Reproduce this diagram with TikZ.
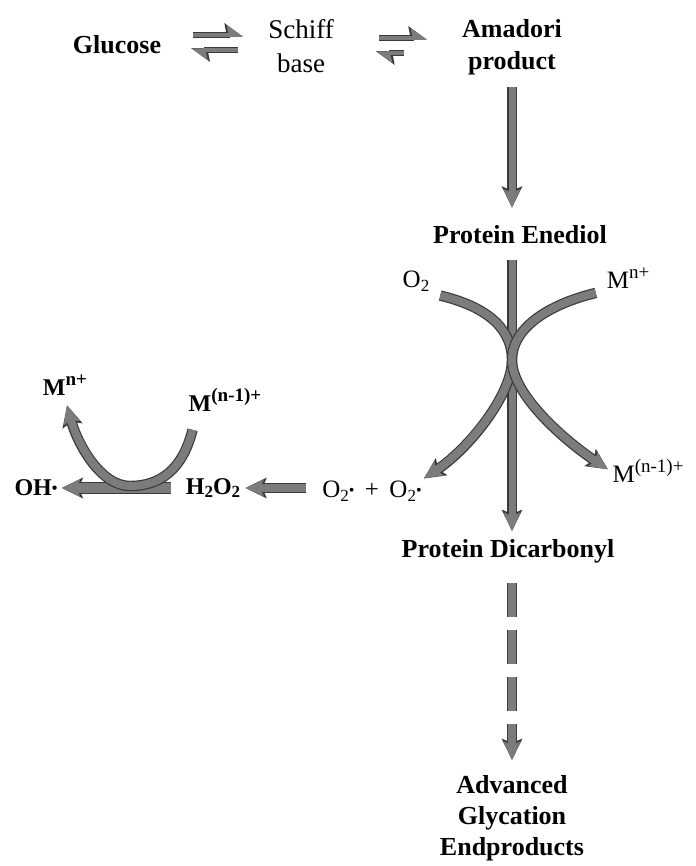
\documentclass[tikz,border=0pt]{standalone}
\usepackage{fontspec}
\setmainfont{Liberation Serif}
\usepackage{tikz}
\usetikzlibrary{arrows.meta,positioning,calc}
\definecolor{agray}{HTML}{7C7C7C}
\definecolor{aedge}{HTML}{3A3A3A}
\newcommand{\chsub}[1]{\raisebox{-0.16em}{\fontsize{17}{17}\selectfont #1}}
\newcommand{\chsup}[1]{\raisebox{0.42em}{\fontsize{19}{19}\selectfont #1}}
\newcommand{\rad}{\raisebox{0.08em}{\fontsize{16}{16}\selectfont\textbullet}}

\begin{document}
\begin{tikzpicture}[x=1pt,y=-1pt,
  lbl/.style={font=\fontsize{26}{32}\selectfont\bfseries,align=center,inner sep=2pt},
  lblr/.style={font=\fontsize{27}{34}\selectfont,align=center,inner sep=2pt},
  sm/.style={font=\fontsize{24}{26}\selectfont\bfseries,inner sep=2pt},
  smr/.style={font=\fontsize{25}{26}\selectfont,inner sep=2pt},
  fat/.style={line width=#1,draw=agray,-{Stealth[length=18pt,width=16pt,inset=3pt]},
    preaction={draw=aedge,line width=#1+2.4,-{Stealth[length=21pt,width=20pt,inset=4pt]}}},
  dfat/.style={line width=8,draw=agray,dash pattern=on 34pt off 13pt,
    -{Stealth[length=18pt,width=16pt,inset=3pt]},
    preaction={draw=aedge,line width=10.4,dash pattern=on 34pt off 13pt,
      -{Stealth[length=21pt,width=20pt,inset=4pt]}}},
  eq/.style={line width=3.5,draw=agray,-{Stealth[harpoon,length=14pt,width=19pt,inset=2pt]},
    preaction={draw=aedge,line width=5.5,-{Stealth[harpoon,length=16pt,width=23pt,inset=2pt]}}}]
\path[use as bounding box] (0,0) rectangle (695,866);

% top row
\node[lbl] (glu) at (117,45) {Glucose};
\node[lblr] (sb) at (301,46) {Schiff\\base};
\node[lbl] (ama) at (512,47) {Amadori\\product};
\draw[eq,shorten <=30pt,shorten >=23pt] ([yshift=10pt]glu.east) -- ([yshift=10pt]glu.east -| sb.west);
\draw[eq,shorten <=28pt,shorten >=28pt] ([yshift=-4pt]sb.west) -- ([yshift=-4pt]sb.west -| glu.east);
\draw[eq,shorten <=43pt,shorten >=33pt] ([yshift=8pt]sb.east) -- ([yshift=8pt]sb.east -| ama.west);
\draw[eq,shorten <=56pt,shorten >=40pt] ([yshift=-6pt]ama.west) -- ([yshift=-6pt]ama.west -| sb.east);

% main chain
\node[lbl] (ene) at (520,235) {Protein Enediol};
\node[lbl] (dic) at (508,551) {Protein Dicarbonyl};
\node[lbl,font=\fontsize{26}{31}\selectfont\bfseries] (age) at (512,818) {Advanced\\Glycation\\Endproducts};
\draw[fat=7,shorten <=10pt,shorten >=16pt] (ama.south) -- (ama.south |- ene.north);
\draw[fat=7,shorten <=14pt,shorten >=6pt] (ama.south |- ene.south) -- (ama.south |- dic.north);
\draw[dfat,shorten <=18pt,shorten >=13pt] (age.north |- dic.south) -- (age.north);

% crossing at the enediol
\node[smr] (o2) at (416,281) {O\chsub{2}};
\node[smr] (mn) at (628,278) {M\chsup{n+}};
\node[smr] (sup) at (372,491) {O\chsub{2}\rad\ \,+\ \,O\chsub{2}\rad};
\node[smr] (mr) at (648,471) {M\chsup{(n-1)+}};
\coordinate (jn) at (512,360);
\draw[fat=8,shorten <=9pt] (o2.south east) .. controls +(50,12) and +(0,-35) .. (jn)
  .. controls +(0,35) and +(45,-30) .. (sup.north east);
\draw[fat=8,shorten <=9pt,shorten >=3pt] (mn.south west) .. controls +(-50,12) and +(0,-35) .. (jn)
  .. controls +(0,35) and +(-45,-30) .. (mr.west);

% peroxide branch
\node[sm] (oh) at (36,488) {OH\rad};
\node[sm] (h2o2) at (213,488) {H\chsub{2}O\chsub{2}};
\node[sm] (ml) at (65,385) {M\chsup{n+}};
\node[sm] (mnl) at (225,400) {M\chsup{(n-1)+}};
\coordinate (ub) at (130,486);
\draw[fat=10,shorten <=13pt,shorten >=2pt] (h2o2.west) -- (h2o2.west -| oh.east);
\draw[fat=8,shorten <=14pt,shorten >=3pt] (sup.west |- h2o2.east) -- (h2o2.east);
\draw[fat=8,shorten >=8pt] ($(mnl.south west)+(6,16)$) .. controls +(-10,40) and +(30,0) .. (ub)
  .. controls +(-30,0) and +(12,45) .. (ml.south);
\end{tikzpicture}
\end{document}
